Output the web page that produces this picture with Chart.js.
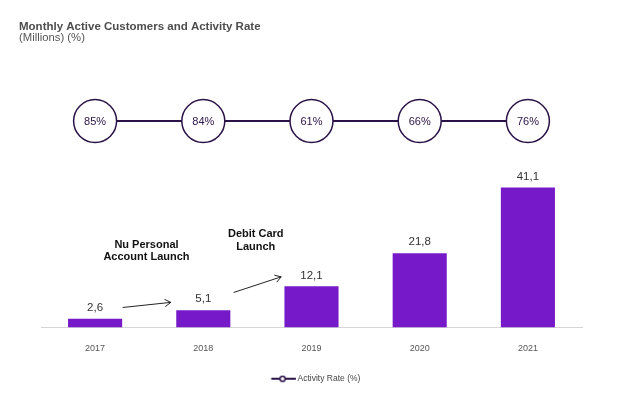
<!DOCTYPE html>
<html>
<head>
<meta charset="utf-8">
<script src="https://cdn.jsdelivr.net/npm/chart.js@4"></script>
<style>
html,body{margin:0;padding:0;background:#fff;}
#wrap{width:624px;height:397px;position:relative;}
</style>
</head>
<body>
<div id="wrap"><canvas id="c" width="624" height="397"></canvas></div>
<script>
// ---- data ----
const chartTitle = 'Monthly Active Customers and Activity Rate';
const chartSubtitle = '(Millions) (%)';
const years = ['2017', '2018', '2019', '2020', '2021'];
const activeCustomers = [2.6, 5.1, 12.1, 21.8, 41.1];
const activityRate = [85, 84, 61, 66, 76];
const rateRowLabel = 'Activity Rate (%)';
const noteTexts = [['Nu Personal', 'Account Launch'], ['Debit Card', 'Launch']];
// note anchors: category position (fractional index) and value on the customers axis
const noteAnchorX = [0.475, 1.485];
const noteAnchorY = [22.5, 25.5];
// arrows: start / end in (category index, customers value)
const arrowFromX = [0.255, 1.28];
const arrowFromY = [5.9, 10.3];
const arrowToX = [0.70, 1.72];
const arrowToY = [7.4, 14.9];

const FONT = '"Liberation Sans", Arial, Helvetica, sans-serif';
const PURPLE = '#7619c9';
const DARK = '#2b1247';

function fmt(v) { return String(v).replace('.', ','); }

// legend marker image: line with small circle
const legendImg = document.createElement('canvas');
legendImg.width = 37; legendImg.height = 8;
(function () {
  const g = legendImg.getContext('2d');
  g.strokeStyle = DARK; g.lineWidth = 2;
  g.beginPath(); g.moveTo(11.8, 4); g.lineTo(36.8, 4); g.stroke();
  g.beginPath(); g.arc(23.1, 4, 2.6, 0, Math.PI * 2);
  g.fillStyle = '#fff'; g.fill();
  g.lineWidth = 1.5; g.stroke();
})();

const labelsPlugin = {
  id: 'customLabels',
  afterDraw(chart) {
    const ctx = chart.ctx;
    const x = chart.scales.x, y = chart.scales.y;
    ctx.save();
    // title
    ctx.textAlign = 'left';
    ctx.textBaseline = 'alphabetic';
    ctx.fillStyle = '#4d4d4d';
    ctx.font = 'bold 11.5px ' + FONT;
    ctx.fillText(chartTitle, 19, 29.5);
    ctx.font = '11.3px ' + FONT;
    ctx.fillStyle = '#555';
    ctx.fillText(chartSubtitle, 19, 40.5);

    // bar value labels
    const barMeta = chart.getDatasetMeta(0);
    ctx.textAlign = 'center';
    ctx.textBaseline = 'middle';
    ctx.font = '11.5px ' + FONT;
    ctx.fillStyle = '#333';
    barMeta.data.forEach((bar, i) => {
      ctx.fillText(fmt(activeCustomers[i]), bar.x, bar.y - 11);
    });

    // rate labels in circles
    const lineMeta = chart.getDatasetMeta(1);
    ctx.font = '11px ' + FONT;
    ctx.fillStyle = DARK;
    lineMeta.data.forEach((pt, i) => {
      ctx.fillText(activityRate[i] + '%', pt.x, pt.y + 0.5);
    });

    // notes
    ctx.font = 'bold 11px ' + FONT;
    ctx.fillStyle = '#111';
    noteTexts.forEach((lines, k) => {
      const cx = x.getPixelForValue(noteAnchorX[k]);
      const cy = y.getPixelForValue(noteAnchorY[k]);
      const lh = 12.7;
      lines.forEach((t, j) => {
        ctx.fillText(t, cx, cy + (j - (lines.length - 1) / 2) * lh);
      });
    });

    // arrows
    ctx.strokeStyle = '#222';
    ctx.lineWidth = 1;
    for (let k = 0; k < arrowFromX.length; k++) {
      const x1 = x.getPixelForValue(arrowFromX[k]), y1 = y.getPixelForValue(arrowFromY[k]);
      const x2 = x.getPixelForValue(arrowToX[k]), y2 = y.getPixelForValue(arrowToY[k]);
      const a = Math.atan2(y2 - y1, x2 - x1);
      const hl = 7, ha = 0.55;
      ctx.beginPath();
      ctx.moveTo(x1, y1); ctx.lineTo(x2, y2);
      ctx.moveTo(x2 - hl * Math.cos(a - ha), y2 - hl * Math.sin(a - ha));
      ctx.lineTo(x2, y2);
      ctx.lineTo(x2 - hl * Math.cos(a + ha), y2 - hl * Math.sin(a + ha));
      ctx.stroke();
    }
    ctx.restore();
  }
};

new Chart(document.getElementById('c'), {
  data: {
    labels: years,
    datasets: [
      {
        type: 'bar',
        label: 'Monthly Active Customers',
        data: activeCustomers,
        backgroundColor: PURPLE,
        borderWidth: 0,
        barPercentage: 0.5,
        categoryPercentage: 1.0,
        xAxisID: 'x',
        yAxisID: 'y'
      },
      {
        type: 'line',
        label: rateRowLabel,
        data: activityRate.map(() => rateRowLabel),
        borderColor: DARK,
        borderWidth: 2,
        pointRadius: 21.5,
        pointHoverRadius: 21.5,
        pointBorderWidth: 1.5,
        pointBackgroundColor: '#fff',
        pointBorderColor: DARK,
        fill: false,
        tension: 0,
        clip: false,
        xAxisID: 'x',
        yAxisID: 'yRate'
      }
    ]
  },
  options: {
    responsive: false,
    animation: false,
    devicePixelRatio: 1,
    layout: { padding: { left: 41, right: 42, top: 68, bottom: 4 } },
    scales: {
      x: {
        type: 'category',
        offset: true,
        grid: { display: false, drawTicks: false },
        border: { display: true, color: '#d6d6d6', width: 1 },
        ticks: { color: '#555', font: { size: 9, family: FONT }, padding: 16 }
      },
      y: {
        type: 'linear',
        position: 'left',
        stack: 'v',
        stackWeight: 153,
        min: 0,
        max: 45,
        display: false
      },
      yRate: {
        type: 'category',
        labels: [rateRowLabel],
        offset: true,
        position: 'left',
        stack: 'v',
        stackWeight: 106,
        display: false
      }
    },
    plugins: {
      title: { display: false },
      tooltip: { enabled: false },
      legend: {
        position: 'bottom',
        labels: {
          usePointStyle: true,
          pointStyleWidth: 30.7,
          padding: 4.1,
          color: '#444',
          font: { size: 8.5, family: FONT },
          generateLabels(chart) {
            const items = Chart.defaults.plugins.legend.labels.generateLabels(chart);
            return items.filter(it => it.datasetIndex === 1).map(it => Object.assign(it, { pointStyle: legendImg }));
          }
        }
      }
    }
  },
  plugins: [labelsPlugin]
});
</script>
</body>
</html>
